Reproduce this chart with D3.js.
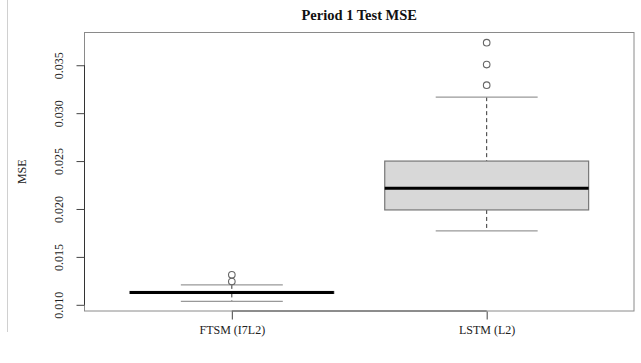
<!DOCTYPE html>
<html>
<head>
<meta charset="utf-8">
<script src="https://cdn.jsdelivr.net/npm/d3@7"></script>
<style>
  body { margin: 0; background: #fff; }
  svg { display: block; font-family: "Liberation Serif", "Times New Roman", serif; }
</style>
</head>
<body>
<svg class="chart"></svg>
<script>
const categories = ['FTSM (I7L2)', 'LSTM (L2)']

// lower whisker, Q1, median, Q3, upper whisker
const lowWhisker = [0.01035, 0.01771]
const q1 = [0.01119, 0.01990]
const median = [0.01129, 0.02216]
const q3 = [0.01139, 0.02500]
const highWhisker = [0.01208, 0.03167]
const outliers = [
  [0.01243, 0.01313],
  [0.03292, 0.03507, 0.03736]
]

const yTicks = [0.010, 0.015, 0.020, 0.025, 0.030, 0.035]

const width = 641, height = 363
const margin = { top: 32, right: 6.5, bottom: 51.5, left: 84 }

const svg = d3.select('.chart')
  .attr('width', width)
  .attr('height', height)

// faint screenshot edge on the left
svg.append('line')
  .attr('x1', 7.5).attr('x2', 7.5)
  .attr('y1', 0).attr('y2', 332)
  .attr('stroke', '#d0d0d0')

const x = d3.scaleLinear()
  .domain([0.42, 2.58])
  .range([margin.left, width - margin.right])

const y = d3.scaleLinear()
  .domain([0.009302, 0.038469])
  .range([height - margin.bottom, margin.top])

// R defaults: boxwex 0.8, staplewex 0.5
const boxW = x(1.8) - x(1)
const capW = x(1.4) - x(1)

// frame
svg.append('rect')
  .attr('x', margin.left + 0.5)
  .attr('y', margin.top + 0.5)
  .attr('width', width - margin.right - margin.left - 1)
  .attr('height', height - margin.bottom - margin.top - 1)
  .attr('fill', 'none')
  .attr('stroke', '#8a8a8a')

const stats = categories.map((c, i) => ({
  name: c, pos: i + 1,
  lo: lowWhisker[i], q1: q1[i], med: median[i], q3: q3[i], hi: highWhisker[i],
  out: outliers[i]
}))

const box = svg.selectAll('g.box')
  .data(stats)
  .enter()
  .append('g')
  .attr('class', 'box')

// whiskers
box.append('line')
  .attr('x1', d => x(d.pos)).attr('x2', d => x(d.pos))
  .attr('y1', d => y(d.hi)).attr('y2', d => y(d.q3))
  .attr('stroke', '#333')
  .attr('stroke-dasharray', '4,3')
box.append('line')
  .attr('x1', d => x(d.pos)).attr('x2', d => x(d.pos))
  .attr('y1', d => y(d.q1)).attr('y2', d => y(d.lo))
  .attr('stroke', '#333')
  .attr('stroke-dasharray', '4,3')

// staples
box.selectAll('line.cap')
  .data(d => [d.lo, d.hi].map(v => ({ pos: d.pos, v })))
  .enter()
  .append('line')
  .attr('class', 'cap')
  .attr('x1', d => x(d.pos) - capW / 2)
  .attr('x2', d => x(d.pos) + capW / 2)
  .attr('y1', d => y(d.v)).attr('y2', d => y(d.v))
  .attr('stroke', '#999')
  .attr('stroke-width', 1.2)

box.append('rect')
  .attr('x', d => x(d.pos) - boxW / 2)
  .attr('y', d => y(d.q3))
  .attr('width', boxW)
  .attr('height', d => y(d.q1) - y(d.q3))
  .attr('fill', '#d8d8d8')
  .attr('stroke', '#777')
  .attr('stroke-width', 1.2)

box.append('line')
  .attr('x1', d => x(d.pos) - boxW / 2)
  .attr('x2', d => x(d.pos) + boxW / 2)
  .attr('y1', d => y(d.med)).attr('y2', d => y(d.med))
  .attr('stroke', '#000')
  .attr('stroke-width', 3)

box.selectAll('circle')
  .data(d => d.out.map(v => ({ pos: d.pos, v })))
  .enter()
  .append('circle')
  .attr('cx', d => x(d.pos))
  .attr('cy', d => y(d.v))
  .attr('r', 3.3)
  .attr('fill', 'none')
  .attr('stroke', '#666')
  .attr('stroke-width', 1.1)

// axes
const xAxis = d3.axisBottom(x)
  .tickValues(stats.map(d => d.pos))
  .tickFormat((d, i) => categories[i])
  .tickSize(8)
  .tickPadding(6)
  .tickSizeOuter(0)

const gx = svg.append('g')
  .attr('transform', `translate(0, ${height - margin.bottom})`)
  .call(xAxis)
gx.select('.domain').attr('d', `M${x(1)},-0.5H${x(2)}`).attr('stroke', '#555')
gx.selectAll('.tick line').attr('stroke', '#444')
gx.selectAll('text')
  .attr('fill', '#222')
  .style('font-size', '12px')
  .style('font-family', '"Liberation Serif", serif')

const yAxis = d3.axisLeft(y)
  .tickValues(yTicks)
  .tickFormat(d3.format('.3f'))
  .tickSize(8)
  .tickSizeOuter(0)

const gy = svg.append('g')
  .attr('transform', `translate(${margin.left + 0.5}, 0)`)
  .call(yAxis)
gy.select('.domain').attr('d', `M0,${y(0.010)}V${y(0.035)}`).attr('stroke', '#333')
gy.selectAll('.tick line').attr('stroke', '#444')
gy.selectAll('text')
  .attr('fill', '#222')
  .attr('x', 0)
  .attr('dy', 0)
  .attr('transform', 'translate(-22, 0) rotate(-90)')
  .style('text-anchor', 'middle')
  .style('font-size', '12px')
  .style('font-family', '"Liberation Serif", serif')

svg.append('text')
  .attr('transform', `translate(26, ${(margin.top + height - margin.bottom) / 2}) rotate(-90)`)
  .style('text-anchor', 'middle')
  .style('font-size', '12px')
  .attr('fill', '#222')
  .text('MSE')

svg.append('text')
  .attr('x', (margin.left + width - margin.right) / 2)
  .attr('y', 20)
  .style('text-anchor', 'middle')
  .style('font-size', '14.5px')
  .style('font-weight', 'bold')
  .attr('fill', '#111')
  .text('Period 1 Test MSE')
</script>
</body>
</html>
